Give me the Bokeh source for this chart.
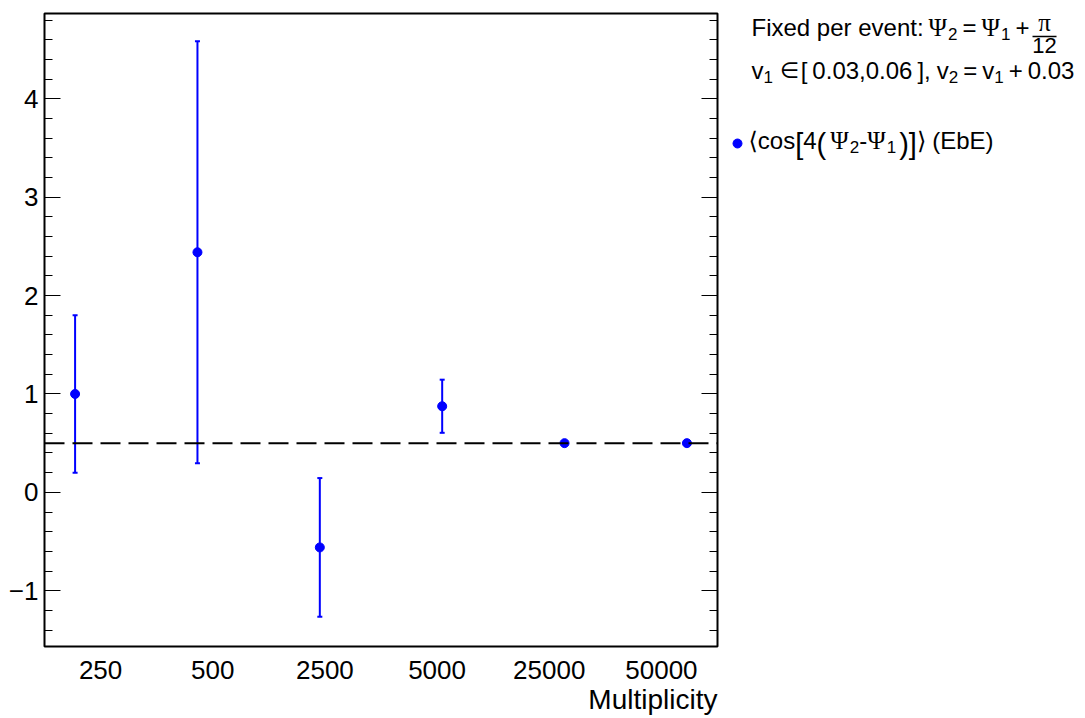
from bokeh.plotting import figure
from bokeh.layouts import row
from bokeh.models import (ColumnDataSource, Range1d, LinearAxis, FixedTicker,
                          SingleIntervalTicker, Whisker, TeeHead, Span, Label, Title)
from bokeh.embed import file_html
from bokeh.resources import INLINE

# Multiplicity classes and the event-by-event <cos[4(Psi2-Psi1)]> estimates
multiplicity = ["250", "500", "2500", "5000", "25000", "50000"]
cos4_mean = [1.00, 2.44, -0.56, 0.875, 0.50, 0.50]
cos4_err = [0.80, 2.145, 0.705, 0.27, 0.01, 0.008]
expected = 0.5  # cos(4*pi/12)

BLUE = "#0000ff"
SANS = "Liberation Sans"
SERIF = "Liberation Serif"
SYM = "DejaVu Sans"

W, H = 1085, 718
XMIN, XMAX = -0.25, 5.25
YMIN, YMAX = -1.567, 4.867
FL, FT, FW, FH = 44, 13, 673, 633
RB = 6                       # right border of the main plot (holds the mirrored axis)
PW = FL + FW + RB            # main plot width

idx = list(range(len(multiplicity)))
src = ColumnDataSource(dict(
    x=idx, y=cos4_mean,
    lo=[m - e for m, e in zip(cos4_mean, cos4_err)],
    hi=[m + e for m, e in zip(cos4_mean, cos4_err)],
))

p = figure(frame_width=FW, frame_height=FH,
           x_range=Range1d(XMIN, XMAX), y_range=Range1d(YMIN, YMAX),
           output_backend="svg", toolbar_location=None, title=None,
           min_border_left=FL, min_border_top=FT,
           min_border_right=RB, min_border_bottom=H - FT - FH,
           background_fill_color="white", border_fill_color="white")
p.grid.visible = False
p.outline_line_color = "black"
p.outline_line_width = 2

# bin-centred category labels along the bottom
nb = len(multiplicity)
bw = (XMAX - XMIN) / nb
centres = [XMIN + (i + 0.5) * bw for i in range(nb)]
xa = p.xaxis[0]
xa.ticker = FixedTicker(ticks=centres, minor_ticks=[])
xa.major_label_overrides = {c: lab for c, lab in zip(centres, multiplicity)}
xa.major_tick_line_color = None
xa.minor_tick_line_color = None
xa.axis_line_color = None
xa.major_label_text_font = SANS
xa.major_label_text_font_size = "26px"
xa.major_label_text_color = "black"
xa.major_label_standoff = 8

p.add_layout(Title(text="Multiplicity", align="right", text_font=SANS,
                   text_font_size="28px", text_font_style="normal",
                   text_color="black", standoff=0, offset=0), "below")

ya = p.yaxis[0]
ya.ticker = SingleIntervalTicker(interval=1, num_minor_ticks=5)
ya.major_label_overrides = {-1: "\u22121"}
ya.axis_line_color = None
ya.major_tick_in = 16
ya.major_tick_out = 0
ya.minor_tick_in = 8
ya.minor_tick_out = 0
ya.major_tick_line_color = "black"
ya.minor_tick_line_color = "black"
ya.major_label_text_font = SANS
ya.major_label_text_font_size = "26px"
ya.major_label_text_color = "black"
ya.major_label_standoff = 6

ra = LinearAxis(ticker=SingleIntervalTicker(interval=1, num_minor_ticks=5))
ra.axis_line_color = None
ra.major_tick_in = 16
ra.major_tick_out = 0
ra.minor_tick_in = 8
ra.minor_tick_out = 0
ra.major_tick_line_color = "black"
ra.minor_tick_line_color = "black"
ra.major_label_text_color = None
ra.major_label_text_font_size = "1px"
ra.major_label_standoff = 0
p.add_layout(ra, "right")

# reference value
p.add_layout(Span(location=expected, dimension="width", line_color="black",
                  line_width=2, line_dash="20 8"))

p.add_layout(Whisker(source=src, base="x", lower="lo", upper="hi",
                     line_color=BLUE, line_width=2,
                     upper_head=TeeHead(size=5, line_color=BLUE, line_width=2),
                     lower_head=TeeHead(size=5, line_color=BLUE, line_width=2)))
p.scatter("x", "y", source=src, size=9, color=BLUE)

# side panel for the caption and legend; its ranges are page pixels
q = figure(frame_width=W - PW, frame_height=FH,
           x_range=Range1d(PW, W), y_range=Range1d(FT + FH, FT),
           x_axis_type=None, y_axis_type=None, output_backend="svg",
           toolbar_location=None, title=None,
           min_border_left=0, min_border_right=0,
           min_border_top=FT, min_border_bottom=H - FT - FH,
           background_fill_color="white", border_fill_color="white")
q.grid.visible = False
q.outline_line_color = None

# advance widths (em) used to flow the pieces of a formula
ADV = {SANS: dict(zip("0123456789.,[]()-+=vcosEbFixedprnt: ",
                      [0.556] * 10 + [0.278, 0.278, 0.278, 0.278, 0.333, 0.333,
                                      0.333, 0.584, 0.584, 0.5, 0.5, 0.556, 0.5,
                                      0.667, 0.556, 0.611, 0.222, 0.5, 0.556,
                                      0.556, 0.556, 0.333, 0.556, 0.278, 0.278,
                                      0.278])),
       SERIF: {"\u03a8": 0.78, "\u03c0": 0.55},
       SYM: {"\u2208": 0.67, "\u27e8": 0.39, "\u27e9": 0.39}}


def put(text, px, py, size, font=SANS, align="left", color="black"):
    q.add_layout(Label(x=px, y=py, text=text, text_font=font,
                       text_font_size=f"{size}px", text_align=align,
                       text_baseline="alphabetic", text_color=color))


def flow(x, base, pieces):
    """pieces: (text, size, font, baseline shift, gap before)"""
    for text, size, font, dy, gap in pieces:
        x += gap
        put(text, x, base + dy, size, font)
        x += sum(ADV[font][c] for c in text) * size
    return x


SUB = 17
# header: Psi_2 = Psi_1 + pi/12
B1 = 27
x = flow(751, B1, [
    ("Fixed per event:", 24, SANS, 0, 0),
    ("\u03a8", 25, SERIF, 0, 5),
    ("2", SUB, SANS, 6, 0),
    ("=", 24, SANS, 0, 5),
    ("\u03a8", 25, SERIF, 0, 5),
    ("1", SUB, SANS, 6, 0),
    ("+", 24, SANS, 0, 5),
])
fc = x + 3 + 12
put("\u03c0", fc, 22, 25, SERIF, align="center")
q.segment(x0=[fc - 12], x1=[fc + 12], y0=[36], y1=[36], line_color="black", line_width=1.5)
put("12", fc, 45, 22, align="center")

# v1 range and v2 definition
B2 = 70
flow(751, B2, [
    ("v", 24, SANS, 0, 0),
    ("1", SUB, SANS, 6, 0),
    ("\u2208", 22, SYM, 0, 7),
    ("[", 24, SANS, 0, 6),
    ("0.03,0.06", 24, SANS, 0, 5),
    ("]", 24, SANS, 0, 5),
    (",", 24, SANS, 0, 0),
    ("v", 24, SANS, 0, 6),
    ("2", SUB, SANS, 6, 0),
    ("=", 24, SANS, 0, 5),
    ("v", 24, SANS, 0, 5),
    ("1", SUB, SANS, 6, 0),
    ("+", 24, SANS, 0, 5),
    ("0.03", 24, SANS, 0, 5),
])

# legend entry
B3 = 140
q.scatter(x=[737], y=[143], size=9, color=BLUE)
flow(748, B3, [
    ("\u27e8", 24, SYM, 0, 0),
    ("cos", 24, SANS, 0, 0),
    ("[", 29, SANS, 3, 0),
    ("4", 24, SANS, 0, 0),
    ("(", 29, SANS, 3, 0),
    ("\u03a8", 25, SERIF, 0, 4),
    ("2", SUB, SANS, 6, 0),
    ("-", 24, SANS, 0, 0),
    ("\u03a8", 25, SERIF, 0, 0),
    ("1", SUB, SANS, 6, 0),
    (")", 29, SANS, 3, 3),
    ("]", 29, SANS, 3, 0),
    ("\u27e9", 24, SYM, 0, 0),
    ("(EbE)", 24, SANS, 0, 6),
])

open("out.html", "w").write(file_html(row(p, q), INLINE))
